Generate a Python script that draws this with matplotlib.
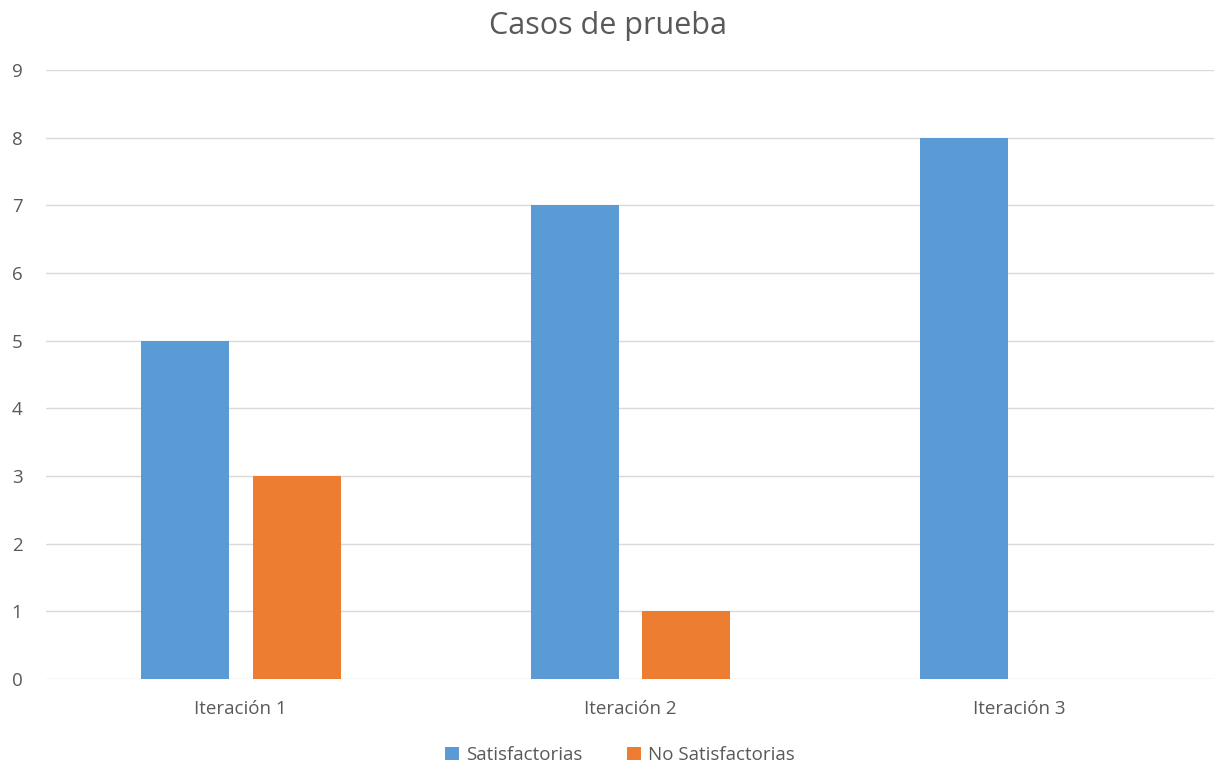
import numpy as np
import matplotlib.pyplot as plt

plt.rcParams['font.family'] = ['Open Sans', 'DejaVu Sans']

categories = ['Iteración 1', 'Iteración 2', 'Iteración 3']
satisfactorias = [5, 7, 8]
no_satisfactorias = [3, 1, 0]

txt = '#595959'
x = np.arange(len(categories))
w = 0.226

fig = plt.figure(figsize=(12.16, 7.63), dpi=100)
ax = fig.add_axes([46 / 1216, 84 / 763, 1168 / 1216, 609 / 763])

ax.bar(x - 0.1425, satisfactorias, w, color='#5B9BD5', label='Satisfactorias', zorder=3)
ax.bar(x + 0.144, no_satisfactorias, w, color='#ED7D31', label='No Satisfactorias', zorder=3)

ax.set_xlim(-0.5, 2.5)
ax.set_ylim(0, 9)
ax.set_yticks(range(10))
ax.set_xticks(x)
ax.set_xticklabels(categories)
ax.tick_params(axis='both', length=0, colors=txt, labelsize=13.5)
ax.tick_params(axis='x', pad=15)
ax.tick_params(axis='y', pad=17)

ax.grid(axis='y', color='#D9D9D9', linewidth=1, zorder=0)
for s in ax.spines.values():
    s.set_visible(False)

fig.suptitle('Casos de prueba', y=0.985, va='top', fontsize=22, color=txt)
fig.legend(loc='lower center', bbox_to_anchor=(0.51, -0.006), ncol=2, frameon=False,
           borderaxespad=0.0, borderpad=0.2, fontsize=13.5, labelcolor=txt,
           handlelength=0.7, handleheight=0.7, handletextpad=0.4, columnspacing=2.4)

fig.savefig('out.png', dpi=100)
